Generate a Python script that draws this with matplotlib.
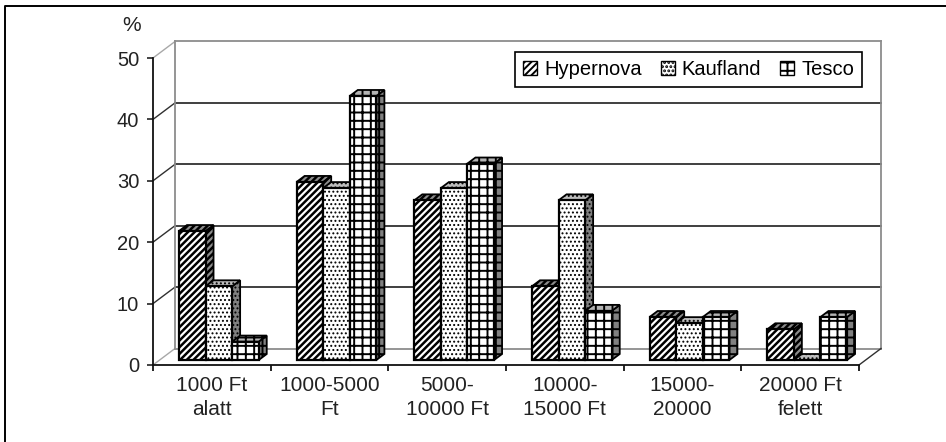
import matplotlib
matplotlib.use('Agg')
import matplotlib.pyplot as plt
from matplotlib.patches import Patch

plt.rcParams['font.family'] = ['Liberation Sans', 'DejaVu Sans']

categories = ['1000 Ft\nalatt', '1000-5000\nFt', '5000-\n10000 Ft', '10000-\n15000 Ft', '15000-\n20000', '20000 Ft\nfelett']
hypernova = [21, 29, 26, 12, 7, 5]
kaufland = [12, 28, 28, 26, 6, 0]
tesco = [3, 43, 32, 8, 7, 7]
y_ticks = [0, 10, 20, 30, 40, 50]

W, H = 946, 442
x0, x1 = 153, 859      # front of floor in pixels
y0, y1 = 365, 58       # 0 and 50 on the front axis
ux = (x1 - x0) / len(categories)
uy = (y0 - y1) / 50

fig = plt.figure(figsize=(W / 100, H / 100), dpi=100)
ax = fig.add_axes([x0 / W, 1 - y0 / H, (x1 - x0) / W, (y0 - y1) / H])
ax.set_xlim(0, len(categories))
ax.set_ylim(0, 50)
ax.patch.set_visible(False)

# only the top and left edges of the outer frame are there
fig.add_artist(plt.Line2D([5 / W, 5 / W, 1], [0, 1 - 5.5 / H, 1 - 5.5 / H], color='black', lw=1.4))

# depth offsets in data units
wall_dx, wall_dy = 22 / ux, 16.5 / uy
bar_dx, bar_dy = 8 / ux, 6 / uy
lift_x, lift_y = 7 / ux, 5 / uy
bar_w = 26.6 / ux

# back wall and grid
for t in y_ticks:
    col = '#8c8c8c' if t in (0, 50) else '#303030'
    ax.plot([wall_dx, len(categories) + wall_dx], [t + wall_dy, t + wall_dy], color=col, lw=1.3, clip_on=False, zorder=1)
    col2 = '#a8a8a8' if t in (0, 50) else '#303030'
    ax.plot([0, wall_dx], [t, t + wall_dy], color=col2, lw=1.0, clip_on=False, zorder=1)
ax.plot([wall_dx, wall_dx], [wall_dy, 50 + wall_dy], color='#8c8c8c', lw=1.3, clip_on=False, zorder=1)
ax.plot([len(categories) + wall_dx] * 2, [wall_dy, 50 + wall_dy], color='#8c8c8c', lw=1.3, clip_on=False, zorder=1)
ax.plot([len(categories), len(categories) + wall_dx], [0, wall_dy], color='#303030', lw=1.0, clip_on=False, zorder=1)

# name, values, hatch, top colour, side colour, hatch line width
series = [
    ('Hypernova', hypernova, '/////', '#8c8c8c', '#8c8c8c', 1.8),
    ('Kaufland', kaufland, '....', '#bdbdbd', '#808080', 0.9),
    ('Tesco', tesco, '++', '#b4b4b4', '#808080', 1.4),
]

z = 3
for i in range(len(categories)):
    for j, (name, vals, hatch, top_col, side_col, hatch_lw) in enumerate(series):
        plt.rcParams['hatch.linewidth'] = hatch_lw
        left = i + 0.5 - 1.5 * bar_w + j * bar_w + lift_x
        right = left + bar_w
        v = vals[i]
        base = lift_y
        top = base + v
        ax.bar(left, v, width=bar_w, bottom=base, align='edge', color='white', edgecolor='black', hatch=hatch, lw=1.6, zorder=z + 2, clip_on=False)
        ax.fill([left, left + bar_dx, right + bar_dx, right], [top, top + bar_dy, top + bar_dy, top],
                facecolor=top_col, edgecolor='black', hatch=hatch, lw=1.3, zorder=z + 1, clip_on=False)
        ax.fill([right, right + bar_dx, right + bar_dx, right], [base, base + bar_dy, top + bar_dy, top],
                facecolor=side_col, edgecolor='black', hatch=hatch, lw=1.3, zorder=z, clip_on=False)
        z += 3

# axes
for s in ('top', 'right'):
    ax.spines[s].set_visible(False)
for s in ('left', 'bottom'):
    ax.spines[s].set_linewidth(1.3)
    ax.spines[s].set_color('#111111')
ax.set_yticks(y_ticks)
ax.set_xticks(range(len(categories) + 1))
ax.set_xticklabels([])
ax.set_xticks([i + 0.5 for i in range(len(categories))], labels=categories, minor=True)
ax.tick_params(axis='x', which='major', length=4, width=1.2, direction='out')
ax.tick_params(axis='x', which='minor', length=0, pad=8, labelsize=15, colors='#222222')
for lab in ax.get_xticklabels(minor=True):
    lab.set_linespacing(1.3)
ax.tick_params(axis='y', length=4, width=1.2, pad=6, labelsize=14.5, colors='#222222')
ax.text(-21 / ux, 50 + 32 / uy, '%', ha='center', va='center', fontsize=15, color='#222222')

handles = []
for s in series:
    plt.rcParams['hatch.linewidth'] = s[5]
    handles.append(Patch(facecolor='#ffffff', edgecolor='black', hatch=s[2], lw=1.0, label=s[0]))
leg = ax.legend(handles=handles, ncol=3, loc='upper left', mode='expand',
                bbox_to_anchor=((515 - x0) / (x1 - x0), 1 + (y1 - 52) / (y0 - y1), (862 - 515) / (x1 - x0), 0),
                borderaxespad=0, frameon=True, fancybox=False, edgecolor='black', framealpha=1, fontsize=14.5,
                handlelength=0.7, handleheight=0.7, handletextpad=0.35, columnspacing=0.8, borderpad=0.4)
leg.get_frame().set_linewidth(1.2)
leg.set_zorder(200)

fig.savefig('out.png', dpi=100)
